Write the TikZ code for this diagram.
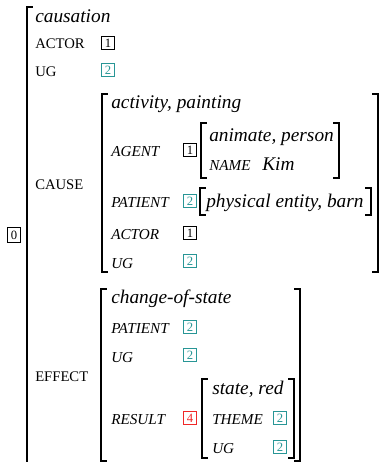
\documentclass[tikz,border=0pt]{standalone}
\usepackage{fontspec}
\setmainfont{Liberation Serif}
\definecolor{tagteal}{RGB}{40,150,150}
\definecolor{tagred}{RGB}{240,40,40}
\newcommand{\valfont}{\fontsize{14.5}{16}\selectfont\itshape}
\newcommand{\labfont}{\fontsize{11}{12}\selectfont}
\newcommand{\ilabfont}{\fontsize{11.4}{12}\selectfont\itshape}
\newcommand{\tagfont}{\fontsize{9.5}{10}\selectfont}
% bracket helpers: x, top, bottom (picture units)
\newcommand{\brL}[3]{\draw[brk] (#1+5,#2) -- (#1,#2) -- (#1,#3) -- (#1+5,#3);}
\newcommand{\brR}[3]{\draw[brk] (#1-5,#2) -- (#1,#2) -- (#1,#3) -- (#1-5,#3);}
\tikzset{
  brk/.style={line width=1.3pt, line cap=rect},
  val/.style={anchor=base west, inner sep=0pt, font=\valfont},
  lab/.style={anchor=base west, inner sep=0pt, font=\labfont},
  ilab/.style={anchor=base west, inner sep=0pt, font=\ilabfont},
  tag/.style={draw, line width=0.6pt, anchor=south west, inner sep=0pt,
    minimum width=9.8pt, minimum height=9.8pt, font=\tagfont},
  tagT/.style={tag, draw=tagteal, text=tagteal},
  tagR/.style={tag, draw=tagred, text=tagred},
}
\begin{document}
\begin{tikzpicture}[x=0.75pt,y=-0.75pt]
\useasboundingbox (0,0) rectangle (388,462);
\clip (0,0) rectangle (388,462);

% outer structure
\node[tag, minimum width=10pt, minimum height=11.2pt] (t0) at (7,243) {0};
\draw[brk] (32,7) -- (27,7) -- (27,480);
\node[val] (causation) at (35,22) {causation};
\node[lab] (actor) at (35,48) {ACTOR};
\node[tag] (actor1) at (101,50) {1};
\node[lab] (ug) at (35,76) {UG};
\node[tagT] (ug2) at (101,77) {2};
\node[lab] (cause) at (35,189) {CAUSE};
\node[lab] (effect) at (35,381) {EFFECT};

% CAUSE value
\brL{102}{94}{272}
\brR{378}{94}{272}
\node[val] (activity) at (111,108) {activity, painting};
\node[ilab] (agent) at (111,156) {AGENT};
\node[tag] (agent1) at (183,157) {1};
\brL{201}{123}{178}
\brR{339}{123}{178}
\node[val] (animate) at (209,141) {animate, person};
\node[ilab] (name) at (209,170) {NAME};
\node[val] (kim) at (262,170) {Kim};
\node[ilab] (patient) at (111,207) {PATIENT};
\node[tagT] (patient2) at (183,208) {2};
\brL{200}{188}{215}
\brR{371}{188}{215}
\node[val] (barn) at (206,207) {physical entity, barn};
\node[ilab] (cactor) at (111,239) {ACTOR};
\node[tag] (cactor1) at (183,240) {1};
\node[ilab] (cug) at (111,268) {UG};
\node[tagT] (cug2) at (183,268) {2};

% EFFECT value
\brL{101}{289}{461}
\brR{300}{289}{461}
\node[val] (change) at (111,303) {change-of-state};
\node[ilab] (epatient) at (111,333) {PATIENT};
\node[tagT] (epatient2) at (183,334) {2};
\node[ilab] (eug) at (111,362) {UG};
\node[tagT] (eug2) at (183,362) {2};
\node[ilab] (result) at (111,424) {RESULT};
\node[tagR] (result4) at (183,425) {4};
\brL{202}{379}{458}
\brR{294}{379}{458}
\node[val] (state) at (212,394) {state, red};
\node[ilab] (theme) at (212,424) {THEME};
\node[tagT] (theme2) at (273,425) {2};
\node[ilab] (rug) at (212,453) {UG};
\node[tagT] (rug2) at (273,454) {2};
\end{tikzpicture}
\end{document}
